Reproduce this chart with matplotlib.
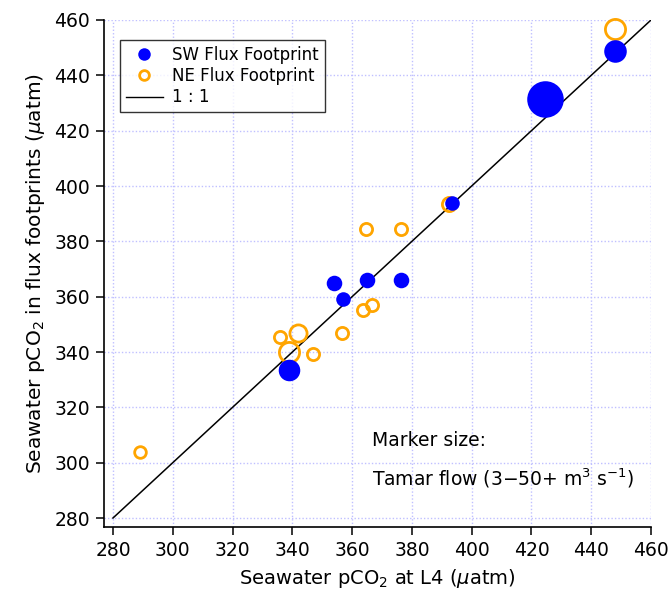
import numpy as np
import matplotlib
matplotlib.use("Agg")
from matplotlib import pyplot as plt

# SW flux footprint (filled blue)
sw_l4 = [354, 357, 365, 376.5, 339, 393.5, 424.5, 448]
sw_foot = [365, 359, 366, 366, 333.5, 393.7, 431.3, 448.8]
sw_flow = [8, 6, 8, 8, 20, 6, 50, 22]

# NE flux footprint (open orange)
ne_l4 = [289, 336, 339, 342, 347, 356.7, 363.5, 366.6, 364.8, 376.5, 392.4, 448]
ne_foot = [304, 345.5, 340, 347, 339.3, 347, 355.2, 357, 384.3, 384.3, 393.5, 456.7]
ne_flow = [3, 4, 20, 14, 4, 4, 4, 4, 4, 4, 8, 20]

one_to_one = [280, 460]

plt.rcParams['font.family'] = ['DejaVu Sans']
px = 0.72  # points per pixel at dpi 100


def marker_pt(flow):
    return (11 + 0.5 * flow) * px


fig = plt.figure(figsize=(6.71, 5.95), dpi=100)
ax = fig.add_axes([104 / 671, 68 / 595, 547 / 671, 507 / 595])

ax.set_xlim(280 - 9 / 2.99, 460)
ax.set_ylim(280 - 9 / 2.767, 460)

ax.grid(True, color='#c0c0ff', linestyle=(0, (1, 1.5)), linewidth=1.0)
ax.set_axisbelow(True)

ax.plot(one_to_one, one_to_one, color='black', linewidth=1.1, zorder=2)

for x, y, f in zip(ne_l4, ne_foot, ne_flow):
    ax.plot(x, y, 'o', markersize=marker_pt(f) - 0.6, markerfacecolor='none',
            markeredgecolor='orange', markeredgewidth=2.0, zorder=3, clip_on=False)
for x, y, f in zip(sw_l4, sw_foot, sw_flow):
    ax.plot(x, y, 'o', markersize=marker_pt(f) + 0.4, color='blue', markeredgewidth=0,
            zorder=4, clip_on=False)

# legend handles
h1, = ax.plot([], [], 'o', color='blue', markersize=9, markeredgewidth=0)
h2, = ax.plot([], [], 'o', markerfacecolor='none', markeredgecolor='orange',
              markersize=7, markeredgewidth=2)
h3, = ax.plot([], [], color='black', linewidth=1)
leg = ax.legend([h1, h2, h3], ['SW Flux Footprint', 'NE Flux Footprint', '1 : 1'],
                loc='upper left', bbox_to_anchor=(16 / 547, 1 - 20 / 507),
                borderaxespad=0, fontsize=12, frameon=True, fancybox=False,
                handlelength=2.2, borderpad=0.35, labelspacing=0.2,
                handletextpad=0.6)
leg.get_frame().set_edgecolor('black')
leg.get_frame().set_linewidth(1.0)

ax.text(372, 595 - 441, 'Marker size:', transform=None, fontsize=13.5, va='center')
ax.text(372, 595 - 478, r'Tamar flow (3$-$50+ m$^3$ s$^{-1}$)', transform=None,
        fontsize=13.5, va='center')

ax.spines['top'].set_visible(False)
ax.spines['right'].set_visible(False)
ax.spines['left'].set_linewidth(1.2)
ax.spines['bottom'].set_linewidth(1.2)

ax.set_xticks(np.arange(280, 461, 20))
ax.set_yticks(np.arange(280, 461, 20))
ax.tick_params(direction='out', length=6, width=1.1, labelsize=13.5, pad=4)

ax.set_xlabel(r'Seawater pCO$_2$ at L4 ($\mu$atm)', fontsize=14, labelpad=5)
ax.set_ylabel(r'Seawater pCO$_2$ in flux footprints ($\mu$atm)', fontsize=14.5, labelpad=5)

fig.savefig('out.png', dpi=100)
